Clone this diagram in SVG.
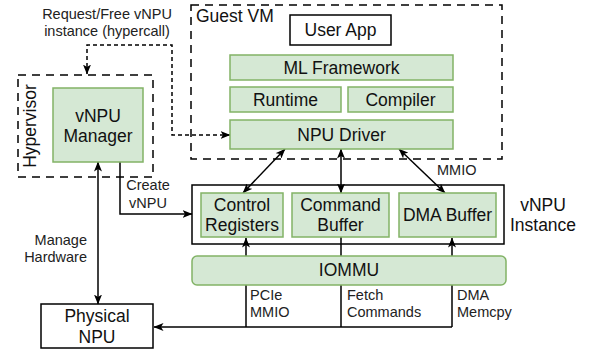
<svg xmlns="http://www.w3.org/2000/svg" width="592" height="350" viewBox="0 0 592 350">
  <defs>
    <marker id="arrow" viewBox="0 0 10 8" refX="9.5" refY="4" markerWidth="10" markerHeight="8" markerUnits="userSpaceOnUse" orient="auto-start-reverse">
      <path d="M0,0 L10,4 L0,8 L2.5,4 Z" fill="#000"/>
    </marker>
    <style>
      text { font-family: "Liberation Sans", Arial, sans-serif; fill: #111; }
      .node { font-size: 17.5px; text-anchor: middle; }
      .title { font-size: 17.5px; text-anchor: start; }
      .lbl { font-size: 14.5px; fill: #222; }
      .mid { text-anchor: middle; }
      .end { text-anchor: end; }
      .green { fill: #d5e8d4; stroke: #82b366; stroke-width: 1.5; }
      .plain { fill: #fff; stroke: #000; stroke-width: 1.5; }
      .zone { fill: none; stroke: #000; stroke-width: 1.5; stroke-dasharray: 8 6; }
      .edge { fill: none; stroke: #000; stroke-width: 1.5; }
      .dotted { stroke-dasharray: 4 3; }
    </style>
  </defs>

  <rect width="592" height="350" fill="#fff"/>

  <!-- connectors -->
  <g id="connectors">
    <path class="edge dotted" d="M87,74 L87,45 L172,45 L172,135 L230,135" marker-start="url(#arrow)" marker-end="url(#arrow)"/>
    <path class="edge" d="M98,162 L98,304" marker-start="url(#arrow)" marker-end="url(#arrow)"/>
    <path class="edge" d="M120,162 L120,214 L192,214" marker-end="url(#arrow)"/>
    <path class="edge" d="M285,149 L243,193" marker-start="url(#arrow)" marker-end="url(#arrow)"/>
    <path class="edge" d="M341,149 L341,193" marker-start="url(#arrow)" marker-end="url(#arrow)"/>
    <path class="edge" d="M399,149 L445,193" marker-start="url(#arrow)" marker-end="url(#arrow)"/>
    <path class="edge" d="M246,327 L246,238" marker-end="url(#arrow)"/>
    <path class="edge" d="M341,237 L341,327"/>
    <path class="edge" d="M452,327 L452,238" marker-end="url(#arrow)"/>
    <path class="edge" d="M452,327 L154,327" stroke-width="2" marker-end="url(#arrow)"/>
  </g>

  <!-- connector labels -->
  <g id="labels">
    <text class="lbl mid" x="107" y="19">Request/Free vNPU</text>
    <text class="lbl mid" x="107" y="36">instance (hypercall)</text>
    <text class="lbl mid" x="148" y="190">Create</text>
    <text class="lbl mid" x="148" y="208">vNPU</text>
    <text class="lbl end" x="87" y="245">Manage</text>
    <text class="lbl end" x="87" y="262">Hardware</text>
    <text class="lbl" x="437" y="175">MMIO</text>
    <text class="lbl" x="250" y="300">PCIe</text>
    <text class="lbl" x="250" y="317">MMIO</text>
    <text class="lbl" x="347" y="300">Fetch</text>
    <text class="lbl" x="347" y="317">Commands</text>
    <text class="lbl" x="457" y="300">DMA</text>
    <text class="lbl" x="457" y="317">Memcpy</text>
  </g>

  <!-- hypervisor -->
  <g id="hypervisor">
    <rect class="zone" x="18" y="75" width="135" height="102"/>
    <text class="node" transform="translate(36,126) rotate(-90)">Hypervisor</text>
  </g>
  <g id="vnpu-manager">
    <rect class="green" x="53" y="88" width="90" height="74"/>
    <text class="node" x="98" y="122">vNPU</text>
    <text class="node" x="98" y="142">Manager</text>
  </g>

  <!-- guest VM -->
  <g id="guest-vm">
    <rect class="zone" x="191" y="5" width="311" height="154"/>
    <text class="title" x="196" y="22">Guest VM</text>
  </g>
  <g id="user-app">
    <rect class="plain" x="290" y="15" width="101" height="30"/>
    <text class="node" x="340.5" y="36">User App</text>
  </g>
  <g id="ml-framework">
    <rect class="green" x="230" y="55" width="223" height="25"/>
    <text class="node" x="341.5" y="74">ML Framework</text>
  </g>
  <g id="runtime">
    <rect class="green" x="230" y="87" width="111" height="25"/>
    <text class="node" x="285.5" y="106">Runtime</text>
  </g>
  <g id="compiler">
    <rect class="green" x="348" y="87" width="105" height="25"/>
    <text class="node" x="400.5" y="106">Compiler</text>
  </g>
  <g id="npu-driver">
    <rect class="green" x="230" y="120" width="223" height="29"/>
    <text class="node" x="341.5" y="141">NPU Driver</text>
  </g>

  <!-- vNPU instance -->
  <g id="vnpu-instance">
    <rect x="192" y="185" width="312" height="59" fill="none" stroke="#000" stroke-width="1.5"/>
    <text class="node" x="543" y="211">vNPU</text>
    <text class="node" x="543" y="231">Instance</text>
  </g>
  <g id="control-registers">
    <rect class="green" x="201" y="193" width="82" height="44"/>
    <text class="node" x="242" y="211">Control</text>
    <text class="node" x="242" y="231">Registers</text>
  </g>
  <g id="command-buffer">
    <rect class="green" x="292" y="193" width="97" height="44"/>
    <text class="node" x="340.5" y="211">Command</text>
    <text class="node" x="340.5" y="231">Buffer</text>
  </g>
  <g id="dma-buffer">
    <rect class="green" x="399" y="193" width="97" height="44"/>
    <text class="node" x="447.5" y="221">DMA Buffer</text>
  </g>

  <g id="iommu">
    <rect class="green" x="192" y="256" width="314" height="29" rx="5" ry="5"/>
    <text class="node" x="349" y="276">IOMMU</text>
  </g>

  <g id="physical-npu">
    <rect class="plain" x="41" y="304" width="112" height="44"/>
    <text class="node" x="97" y="322">Physical</text>
    <text class="node" x="97" y="343">NPU</text>
  </g>
</svg>
